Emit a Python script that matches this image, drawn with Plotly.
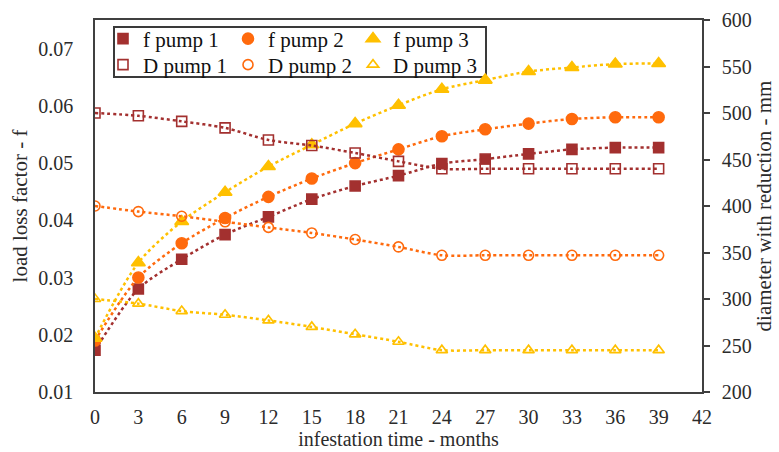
import plotly.graph_objects as go

months = [0, 3, 6, 9, 12, 15, 18, 21, 24, 27, 30, 33, 36, 39]

f_pump1 = [0.0173, 0.0280, 0.0332, 0.0375, 0.0406, 0.0437, 0.0460, 0.0478, 0.0499, 0.0507, 0.0516, 0.0524, 0.0527, 0.0527]
f_pump2 = [0.0190, 0.0300, 0.0360, 0.0404, 0.0441, 0.0473, 0.0500, 0.0524, 0.0547, 0.0559, 0.0569, 0.0577, 0.0580, 0.0580]
f_pump3 = [0.0194, 0.0326, 0.0398, 0.0449, 0.0494, 0.0532, 0.0569, 0.0601, 0.0629, 0.0645, 0.0660, 0.0667, 0.0673, 0.0674]

D_pump1 = [500, 497, 491, 484, 471, 465, 457, 448, 440, 440, 440, 440, 440, 440]
D_pump2 = [400, 394, 389, 383, 377, 371, 364, 356, 347, 347, 347, 347, 347, 347]
D_pump3 = [300, 295, 287, 283, 277, 270, 262, 254, 245, 245, 245, 245, 245, 245]

x_ticks = list(range(0, 43, 3))
left_ticks = [0.01, 0.02, 0.03, 0.04, 0.05, 0.06, 0.07]
right_ticks = list(range(200, 601, 50))

C1 = "#A3302F"
C2 = "#FF6A0D"
C3 = "#FFC000"
FONT = "'Liberation Serif', 'Times New Roman', 'DejaVu Serif', serif"
TXT = "#2b2b2b"
AX = "#404040"

fig = go.Figure()

def add(name, y, color, symbol, size, axis, legend):
    # dotted smoothed connecting line (no legend entry)
    fig.add_trace(go.Scatter(
        x=months, y=y, name=name, mode="lines", showlegend=False,
        line=dict(color=color, width=2.5, dash="dot", shape="spline", smoothing=0.8),
        yaxis=axis, hoverinfo="skip",
    ))
    # markers (legend entry)
    fig.add_trace(go.Scatter(
        x=months, y=y, name=name, mode="markers",
        marker=dict(color=color, symbol=symbol, size=size,
                    line=dict(color=color, width=1.6)),
        yaxis=axis, legend=legend,
    ))

add("D pump 1", D_pump1, C1, "square-open", 10, "y2", "legend2")
add("D pump 2", D_pump2, C2, "circle-open", 10, "y2", "legend2")
add("D pump 3", D_pump3, C3, "triangle-up-open", 10, "y2", "legend2")
add("f pump 1", f_pump1, C1, "square", 10, "y", "legend")
add("f pump 2", f_pump2, C2, "circle", 11, "y", "legend")
add("f pump 3", f_pump3, C3, "triangle-up", 12, "y", "legend")

L, R, T, B = 95, 77, 20, 60
W, H = 779, 452
pw, ph = W - L - R, H - T - B

def px_x(px):
    return (px - L) / pw

def px_y(py):
    return (H - B - py) / ph

legend_common = dict(
    orientation="h", xanchor="left", yanchor="middle",
    font=dict(family=FONT, size=21, color="#111111"),
    bgcolor="rgba(0,0,0,0)", borderwidth=0, entrywidth=80,
    traceorder="normal", itemsizing="trace",
)

fig.update_layout(
    width=W, height=H,
    margin=dict(l=L, r=R, t=T, b=B, autoexpand=False),
    paper_bgcolor="white", plot_bgcolor="white",
    font=dict(family=FONT, size=20, color=TXT),
    showlegend=True,
    legend=dict(x=px_x(103), y=px_y(39), **legend_common),
    legend2=dict(x=px_x(103), y=px_y(65), **legend_common),
    xaxis=dict(
        range=[0, 42], tickmode="array", tickvals=x_ticks,
        showgrid=False, zeroline=False, showline=True, mirror=True,
        linecolor=AX, linewidth=1.5, ticks="", ticklabelstandoff=6,
        automargin=False,
        tickfont=dict(family=FONT, size=20, color=TXT),
        title=dict(text="infestation time - months", standoff=5,
                   font=dict(family=FONT, size=20, color=TXT)),
    ),
    yaxis=dict(
        range=[0.01, 0.075], tickmode="array", tickvals=left_ticks,
        tickformat=".2f", automargin=False,
        showgrid=False, zeroline=False, showline=True,
        linecolor=AX, linewidth=1.5, ticks="", ticklabelstandoff=16,
        tickfont=dict(family=FONT, size=20, color=TXT),
        title=dict(text="load loss factor - f", standoff=5,
                   font=dict(family=FONT, size=21, color=TXT)),
    ),
    yaxis2=dict(
        range=[200, 600], tickmode="array", tickvals=right_ticks,
        overlaying="y", side="right", automargin=False,
        showgrid=False, zeroline=False, showline=True,
        linecolor=AX, linewidth=1.5, ticks="outside", ticklen=6,
        tickcolor=AX, tickwidth=1.5, ticklabelstandoff=8,
        tickfont=dict(family=FONT, size=20, color=TXT),
        title=dict(text="diameter with reduction - mm", standoff=5,
                   font=dict(family=FONT, size=21, color=TXT)),
    ),
    shapes=[dict(
        type="rect", xref="paper", yref="paper",
        x0=px_x(114), x1=px_x(486), y0=px_y(77), y1=px_y(27),
        line=dict(color="#3a3a3a", width=2), fillcolor="white", layer="below",
    )],
)

fig.write_html(
    "out.html",
    config={"displayModeBar": False},
    post_script="document.body.style.margin='0';document.body.style.padding='0';",
)
